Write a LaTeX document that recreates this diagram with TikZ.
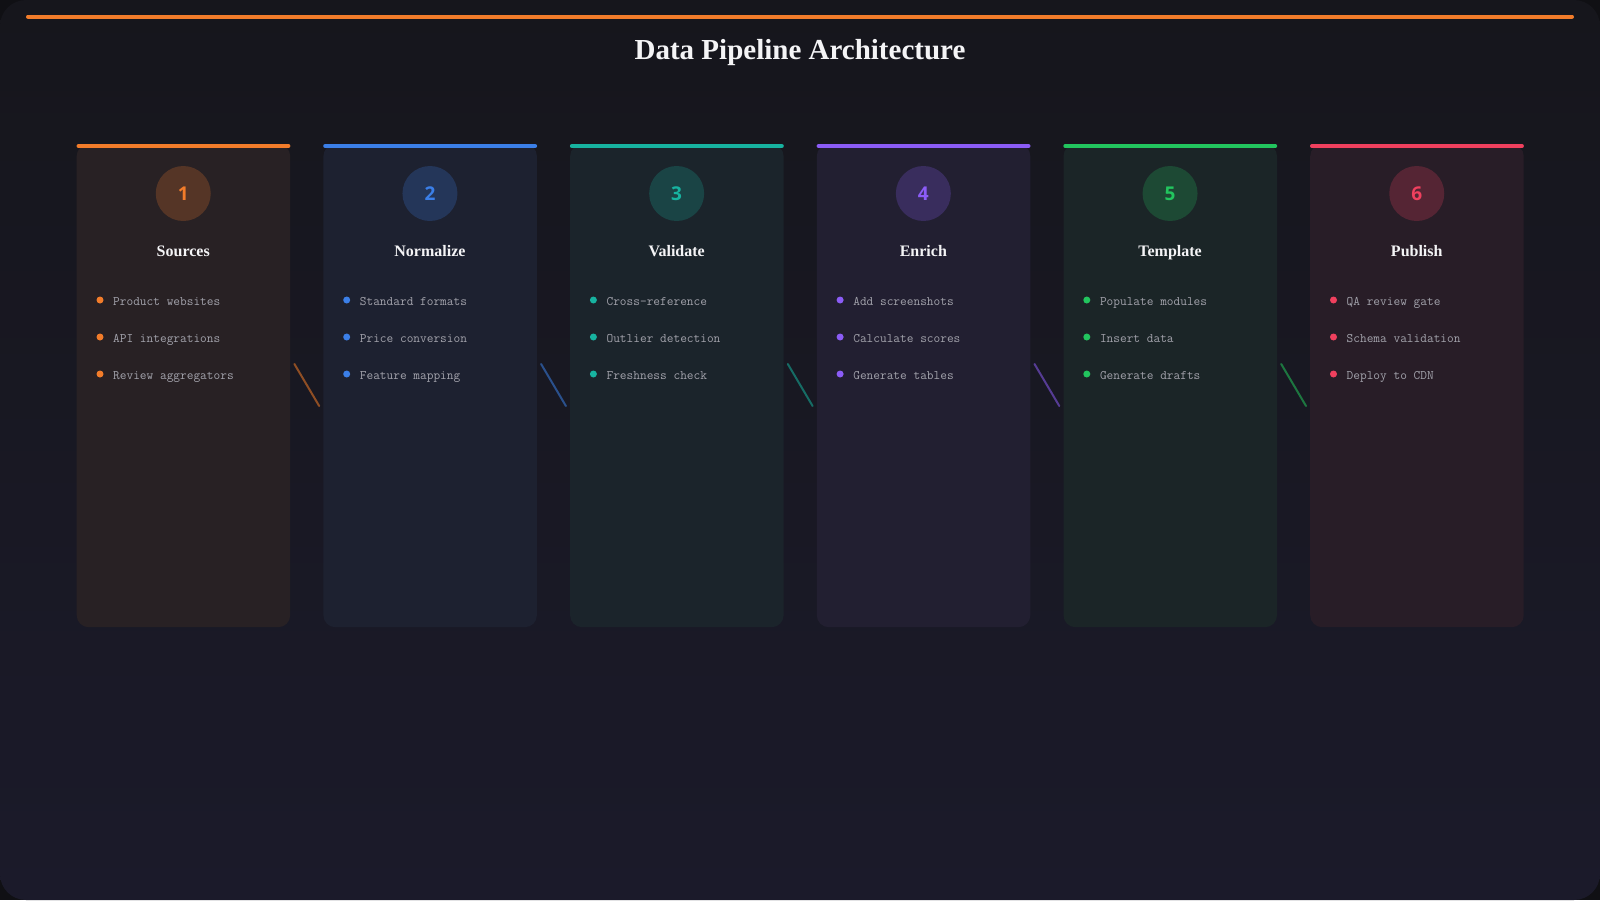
\documentclass[tikz,border=0pt]{standalone}
\usepackage{fontspec}
\setmainfont{Liberation Serif}
\newfontfamily\numfont{Open Sans}
\usetikzlibrary{calc}
\definecolor{pagebgA}{HTML}{16161C}
\definecolor{pagebgB}{HTML}{1B1A2A}
\definecolor{cornerbg}{HTML}{101014}
\definecolor{cardbase}{HTML}{1B1B24}
\definecolor{accA}{HTML}{F27C2A}
\definecolor{accB}{HTML}{3B7FE8}
\definecolor{accC}{HTML}{17B3A0}
\definecolor{accD}{HTML}{8B5CF6}
\definecolor{accE}{HTML}{22C55E}
\definecolor{accF}{HTML}{F0405E}
\definecolor{itemgray}{HTML}{A3A3AC}
\definecolor{titlewhite}{HTML}{F4F4F6}
\tikzset{
  cardbox/.style={rounded corners=12pt, inner sep=0pt, minimum width=213.5pt, minimum height=483pt},
  topbar/.style={line width=4pt, line cap=round},
  stepcirc/.style={circle, minimum size=55pt, inner sep=0pt, font=\numfont\bfseries\fontsize{19}{19}\selectfont},
  cardtitle/.style={anchor=base, inner sep=0pt, font=\bfseries\fontsize{16}{16}\selectfont, text=titlewhite},
  itemtext/.style={anchor=base west, inner sep=0pt, font=\ttfamily\fontsize{13}{13}\selectfont, text=itemgray},
  itemdot/.style={circle, inner sep=0pt, minimum size=7pt},
  linkline/.style={line width=2pt, line cap=round},
}
\begin{document}
\begin{tikzpicture}[x=1pt,y=-1pt]
\useasboundingbox (0,0) rectangle (1600,900);
\fill[cornerbg] (0,0) rectangle (1600,900);
\shade[top color=pagebgA, bottom color=pagebgB, rounded corners=26pt] (0,0) rectangle (1600,900);
% top accent bar
\coordinate (barL) at (28,16.5);
\coordinate (barR) at (1572,16.5);
\draw[accA, line width=4pt, line cap=round] (barL) -- (barR);
\node[font=\bfseries\fontsize{29}{29}\selectfont, text=titlewhite, anchor=base, inner sep=0pt] (maintitle) at (800,59) {Data Pipeline Architecture};
% cards
\foreach \i/\acc/\num/\ttl/\ia/\ib/\ic in {
  0/accA/1/Sources/Product websites/API integrations/Review aggregators,
  1/accB/2/Normalize/Standard formats/Price conversion/Feature mapping,
  2/accC/3/Validate/Cross-reference/Outlier detection/Freshness check,
  3/accD/4/Enrich/Add screenshots/Calculate scores/Generate tables,
  4/accE/5/Template/Populate modules/Insert data/Generate drafts,
  5/accF/6/Publish/QA review gate/Schema validation/Deploy to CDN}{
  \pgfmathsetmacro{\L}{76.5+246.7*\i}
  \pgfmathsetmacro{\C}{\L+106.75}
  \node[cardbox, fill=\acc!6!cardbase, anchor=north west] (card\num) at (\L,144) {};
  \draw[topbar, \acc] ($(card\num.north west)+(2,2)$) -- ($(card\num.north east)+(-2,2)$);
  \node[stepcirc, fill=\acc!27!cardbase, text=\acc] (circ\num) at (\C,193.5) {\num};
  \node[cardtitle] (title\num) at (\C,256.5) {\ttl};
  \node[itemdot, fill=\acc] (dot\num a) at (\L+23.5,300) {};
  \node[itemdot, fill=\acc] (dot\num b) at (\L+23.5,337) {};
  \node[itemdot, fill=\acc] (dot\num c) at (\L+23.5,374) {};
  \node[itemtext] (item\num a) at (\L+36.5,305) {\ia};
  \node[itemtext] (item\num b) at (\L+36.5,342) {\ib};
  \node[itemtext] (item\num c) at (\L+36.5,379) {\ic};
}
% connectors
\foreach \a/\b/\acc in {1/2/accA,2/3/accB,3/4/accC,4/5/accD,5/6/accE}{
  \coordinate (lk\a s) at ($(card\a.north east)+(4,220)$);
  \coordinate (lk\a e) at ($(card\b.north west)+(-4,262)$);
  \draw[linkline, \acc!55!pagebgA] (lk\a s) -- (lk\a e);
}
\end{tikzpicture}
\end{document}
